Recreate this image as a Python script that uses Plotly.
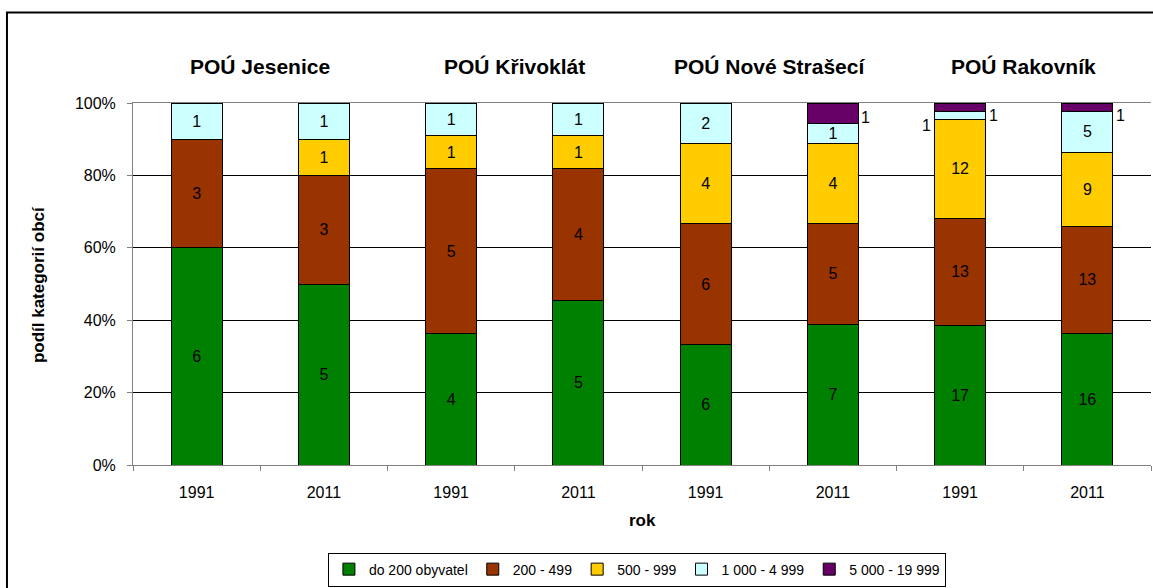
import plotly.graph_objects as go
import numpy as np

groups = ["POÚ Jesenice", "POÚ Křivoklát", "POÚ Nové Strašecí", "POÚ Rakovník"]
years = ["1991", "2011", "1991", "2011", "1991", "2011", "1991", "2011"]
series_names = ["do 200 obyvatel", "200 - 499", "500 - 999", "1 000 - 4 999", "5 000 - 19 999"]
colors = ["#008000", "#993300", "#FFCC00", "#CCFFFF", "#660066"]

do_200 = [6, 5, 4, 5, 6, 7, 17, 16]
s200_499 = [3, 3, 5, 4, 6, 5, 13, 13]
s500_999 = [0, 1, 1, 1, 4, 4, 12, 9]
s1000_4999 = [1, 1, 1, 1, 2, 1, 1, 5]
s5000_19999 = [0, 0, 0, 0, 0, 1, 1, 1]

series = [do_200, s200_499, s500_999, s1000_4999, s5000_19999]
x = list(range(len(years)))
totals = np.sum(np.array(series), axis=0)

FONT = "Arial, 'Liberation Sans', sans-serif"
LBL = dict(size=16, color="black", family=FONT)
fig = go.Figure()
annotations = []
cum = np.zeros(len(years))
for name, vals, col in zip(series_names, series, colors):
    vals = np.array(vals, dtype=float)
    pct = vals / totals * 100
    texts = []
    for i, v in enumerate(vals):
        mid = cum[i] + pct[i] / 2
        if v == 0:
            texts.append("")
        elif name == "1 000 - 4 999" and pct[i] < 4:
            texts.append("")
            annotations.append(dict(x=i, y=mid, xref="x", yref="y", text=str(int(v)),
                                    showarrow=False, xshift=-34, yshift=-10, font=LBL))
        elif name == "5 000 - 19 999":
            texts.append("")
            ys = -4 if pct[i] > 4 else -8
            annotations.append(dict(x=i, y=mid, xref="x", yref="y", text=str(int(v)),
                                    showarrow=False, xshift=33, yshift=ys, font=LBL))
        else:
            texts.append(str(int(v)))
    cum = cum + pct
    fig.add_trace(go.Bar(
        x=x, y=vals, name=name, marker=dict(color=col, line=dict(color="black", width=1)),
        text=texts, textposition="inside", insidetextanchor="middle", textangle=0,
        textfont=LBL, width=0.4, constraintext="none", hoverinfo="skip"))

for gi, g in enumerate(groups):
    annotations.append(dict(x=gi * 2 + 0.5, y=1.1016, xref="x", yref="paper", text="<b>%s</b>" % g,
                            xanchor="center", yanchor="middle",
                            showarrow=False, font=dict(size=21, color="black", family=FONT)))

annotations.append(dict(x=-0.0933, y=0.497, xref="paper", yref="paper", text="<b>podíl kategorií obcí</b>",
                        xanchor="center", yanchor="middle",
                        textangle=-90, showarrow=False, font=dict(size=17, color="black", family=FONT)))
annotations.append(dict(x=0.5, y=-0.154, xref="paper", yref="paper", text="<b>rok</b>",
                        xanchor="center", yanchor="middle",
                        showarrow=False, font=dict(size=17, color="black", family=FONT)))

fig.update_layout(
    width=1153, height=588,
    barmode="stack", barnorm="percent",
    paper_bgcolor="white", plot_bgcolor="white",
    margin=dict(l=133, r=2, t=103, b=121),
    font=dict(family=FONT, size=16, color="black"),
    showlegend=True,
    legend=dict(orientation="h", x=0.495, xanchor="center", y=-0.2418, yanchor="top",
                bordercolor="black", borderwidth=1, traceorder="normal",
                font=dict(size=14, family=FONT, color="black")),
    annotations=annotations,
    shapes=[dict(type="rect", xref="paper", yref="paper", x0=-0.1238, x1=1.05, y0=-0.5, y1=1.25,
                 line=dict(color="black", width=2), fillcolor="rgba(0,0,0,0)", layer="below")],
)
fig.update_xaxes(range=[-0.5, 7.5], tickmode="array", tickvals=x, ticktext=years, ticks="",
                 showgrid=False, showline=True, linecolor="#808080", linewidth=1, mirror=True,
                 tickfont=dict(size=16, family=FONT, color="black"), ticklabelstandoff=13,
                 minor=dict(tickmode="array", tickvals=[i - 0.5 for i in range(len(years) + 1)],
                            ticks="outside", ticklen=5, tickcolor="#808080", showgrid=False),
                 zeroline=False)
fig.update_yaxes(range=[0, 100], tickmode="array", tickvals=[0, 20, 40, 60, 80, 100],
                 ticktext=["0%", "20%", "40%", "60%", "80%", "100%"], ticks="outside", ticklen=5,
                 tickcolor="#808080", showgrid=True, gridcolor="black", gridwidth=1,
                 showline=True, linecolor="#808080", linewidth=1, zeroline=False,
                 tickfont=dict(size=16, family=FONT, color="black"), ticklabelstandoff=8)

fig.write_html("out.html", config={"displayModeBar": False},
               post_script="document.body.style.margin='0';document.body.style.overflow='hidden';")
